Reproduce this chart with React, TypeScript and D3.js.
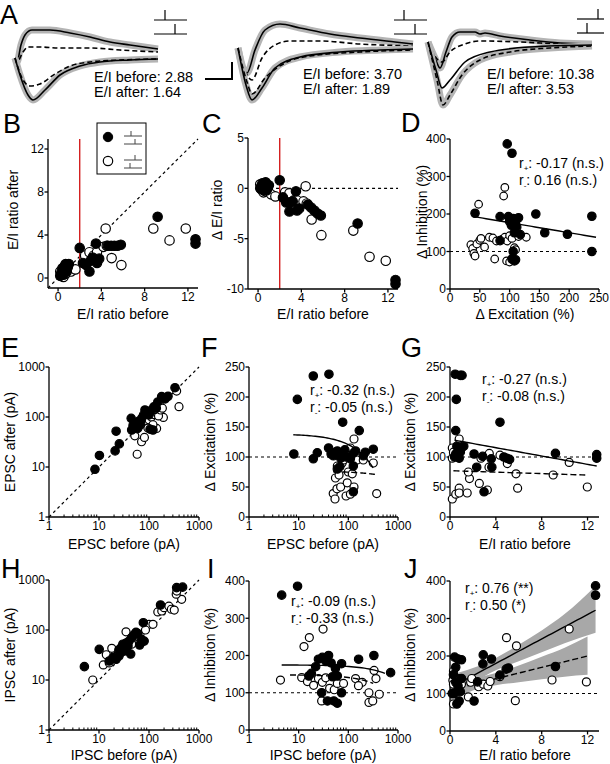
import React from "react";
import * as d3 from "d3";

const FONT = "'Liberation Sans', Arial, Helvetica, sans-serif";

// ---------- Panel A: example traces (time ms, current a.u., outward positive) ----------
const a1UpSolidT = [0, 2, 6, 10, 17, 35, 55, 75, 95, 115, 143];
const a1UpSolidV = [1, -3, 14, 24, 29, 29, 26, 22, 17, 14, 10];
const a1UpDashT = [0, 2, 8, 13, 25, 45, 75, 105, 143];
const a1UpDashV = [1, -3, 7, 12, 12, 11, 11, 9, 7];
const a1LoSolidT = [0, 5, 13, 18, 30, 45, 65, 85, 115, 143];
const a1LoSolidV = [1, -16, -36, -41, -31, -16, -7, -3, -1, 0];
const a1LoDashT = [0, 7, 15, 25, 40, 55, 75, 105, 143];
const a1LoDashV = [1, -19, -27, -25, -15, -7, -3, -1, 0];

const a2UpSolidT = [0, 5, 9, 17, 27, 42, 62, 92, 122, 157, 175];
const a2UpSolidV = [0, -20, -25, -2, 18, 24, 20, 14, 10, 6, 4];
const a2UpDashT = [0, 9, 14, 24, 37, 52, 82, 122, 175];
const a2UpDashV = [0, -27, -32, -10, 3, 7, 7, 4, 2];
const a2LoSolidT = [0, 8, 14, 24, 37, 62, 102, 142, 175];
const a2LoSolidV = [0, -37, -52, -40, -20, -9, -4, -2, -1];
const a2LoDashT = [0, 9, 14, 27, 47, 72, 122, 175];
const a2LoDashV = [0, -34, -46, -30, -15, -8, -4, -2];

const a3UpSolidT = [0, 7, 12, 18, 24, 32, 47, 52, 57, 72, 102, 132, 164];
const a3UpSolidV = [2, -14, -24, -8, 7, 12, 12, 10, 11, 8, 4, 1, 0];
const a3UpDashT = [0, 10, 14, 22, 37, 52, 92, 132, 164];
const a3UpDashV = [2, -16, -18, -8, 0, 3, 2, 0, -1];
const a3LoSolidT = [0, 8, 14, 22, 37, 62, 102, 164];
const a3LoSolidV = [2, -26, -44, -36, -18, -8, -3, -1];
const a3LoDashT = [0, 9, 15, 22, 34, 52, 82, 122, 164];
const a3LoDashV = [2, -36, -61, -51, -31, -16, -8, -4, -2];

const eiLabels = [
  ["E/I before: 2.88", "E/I after: 1.64"],
  ["E/I before: 3.70", "E/I after: 1.89"],
  ["E/I before: 10.38", "E/I after: 3.53"],
];

// ---------- Panel B (and C derived): E/I ratio before / after ----------
const bFilled: [number, number][] = [
  [0.2, 0.2], [0.3, 0.5], [0.4, 0.9], [0.5, 0.3], [0.6, 1.1], [0.7, 1.3], [0.8, 0.6], [0.9, 1.0],
  [1.0, 1.3], [0.5, 0.7], [2.0, 2.8], [2.3, 1.4], [2.6, 1.2], [2.9, 0.6], [3.0, 1.6], [3.2, 1.9],
  [3.5, 3.2], [3.6, 1.4], [3.8, 1.8], [4.6, 3.0], [4.9, 3.0], [5.2, 3.0], [5.5, 3.0], [5.8, 3.1],
  [9.2, 5.7], [12.7, 3.6], [12.7, 3.2],
];
const bOpen: [number, number][] = [
  [0.3, 0.2], [0.4, 0.5], [0.5, 0.1], [0.7, 0.4], [0.9, 0.7], [1.2, 0.6], [1.6, 0.8], [2.5, 2.1],
  [2.9, 2.4], [3.3, 2.1], [3.6, 2.4], [4.2, 2.9], [4.4, 4.6], [4.5, 3.0], [4.95, 1.85], [5.85, 1.2],
  [8.8, 4.6], [10.3, 3.5], [11.8, 4.6], [0.2, 0.6],
];

// ---------- Panel D: ΔExcitation vs ΔInhibition ----------
const dFilled: [number, number][] = [
  [96, 387], [104, 362], [42, 202], [84, 193], [98, 193], [100, 180], [103, 170], [106, 188],
  [110, 175], [112, 165], [115, 190], [108, 150], [118, 145], [144, 200], [159, 150], [197, 146],
  [238, 194], [238, 100], [84, 129], [106, 100], [104, 80], [108, 75], [110, 78],
];
const dOpen: [number, number][] = [
  [92, 271], [90, 248], [48, 226], [35, 118], [38, 108], [40, 95], [42, 88], [45, 120], [50, 130],
  [52, 135], [58, 112], [66, 138], [72, 136], [78, 128], [75, 80], [88, 133], [92, 138], [96, 128],
  [100, 142], [104, 135], [108, 110], [110, 105], [115, 140], [128, 138], [95, 75], [100, 72],
];
const dFitFilled: [number, number][] = [[40, 193], [245, 138]];

// ---------- Panel E: EPSC before / after ----------
const eFilled: [number, number][] = [
  [8.3, 9], [10.2, 17], [21, 21], [22, 52], [25.5, 29], [44, 94], [83, 138], [179, 256], [331, 385],
  [45, 55], [48, 68], [52, 62], [56, 75], [62, 82], [68, 72], [72, 95], [78, 110], [90, 118],
  [100, 110], [110, 135], [125, 160], [140, 150], [150, 200], [210, 230], [240, 260], [105, 57],
  [120, 55], [60, 60],
];
const eOpen: [number, number][] = [
  [58, 18], [398, 161], [194, 98], [71, 32], [81, 39], [52, 42], [142, 59], [357, 330], [58, 58],
  [68, 70], [80, 82], [92, 95], [100, 88], [112, 100], [125, 112], [138, 128], [155, 105], [170, 138],
  [160, 180], [185, 150], [120, 70], [95, 60], [130, 140],
];

// ---------- Panel F: EPSC before vs ΔExcitation ----------
const fFilled: [number, number][] = [
  [9.4, 196], [19.7, 235], [40.7, 238], [77, 158], [166, 144], [8, 105], [19.7, 97], [23.7, 107],
  [40, 115], [45, 105], [50, 102], [55, 108], [60, 110], [70, 98], [75, 104], [85, 112], [95, 100],
  [110, 97], [125, 106], [140, 110], [200, 102], [220, 108], [318, 113], [67.6, 84], [126, 85],
  [126, 42], [60, 80],
];
const fOpen: [number, number][] = [
  [130, 130], [49.6, 39], [53.9, 30], [59, 47], [70, 50], [90, 35], [95, 57], [110, 38], [130, 50],
  [372, 39], [318, 90], [55, 65], [65, 70], [75, 90], [80, 95], [100, 75], [120, 72], [150, 95],
  [110, 115], [60, 85], [200, 95], [85, 100],
];
const fFitFilled: [number, number][] = [[7.8, 137], [316, 82]];
const fFitOpen: [number, number][] = [[49.7, 75.5], [343, 71]];

// ---------- Panel G: E/I before vs ΔExcitation ----------
const gFilled: [number, number][] = [
  [0.45, 238], [0.9, 236], [1.05, 236], [0.55, 196], [0.5, 144], [4.36, 158], [0.4, 100], [0.5, 105],
  [0.7, 110], [0.8, 98], [1.0, 115], [1.2, 118], [0.6, 118], [2.1, 105], [2.33, 83], [2.85, 101],
  [2.97, 42], [3.6, 97], [3.65, 83], [4.7, 100], [4.95, 98], [5.2, 96], [9.2, 106], [12.8, 104],
  [12.8, 98], [0.9, 108],
];
const gOpen: [number, number][] = [
  [0.8, 130], [0.2, 115], [0.2, 98], [0.8, 48], [0.2, 30], [0.5, 38], [0.8, 40], [1.5, 40], [1.7, 64],
  [1.6, 75], [2.56, 56], [3.26, 45], [2.7, 98], [3.43, 106], [3.4, 83], [4.36, 103], [5.0, 89],
  [5.76, 72], [5.9, 48], [9.0, 70], [10.4, 91], [11.98, 50], [0.3, 108],
];
const gFitFilled: [number, number][] = [[0.4, 128], [12.8, 85]];
const gFitOpen: [number, number][] = [[0.3, 77], [11.8, 70]];

// ---------- Panel H: IPSC before / after ----------
const hFilled: [number, number][] = [
  [5.1, 18.5], [10.1, 41], [357, 704], [470, 720], [170, 316], [77, 140], [43, 33], [16, 24], [19, 28],
  [22, 26], [25, 40], [28, 45], [30, 52], [32, 38], [35, 55], [40, 60], [45, 70], [50, 80], [55, 90],
  [60, 85], [65, 50], [70, 65], [80, 60], [25, 30], [38, 48],
];
const hOpen: [number, number][] = [
  [7.5, 10], [12.2, 20], [18, 43], [34.7, 92], [100, 130], [150, 230], [180, 240], [200, 280],
  [250, 300], [280, 260], [320, 250], [450, 410], [350, 520], [360, 600], [65, 55], [75, 60], [14, 32],
  [16, 22], [22, 30], [28, 36], [45, 52], [85, 100], [55, 75], [120, 130], [30, 45],
];

// ---------- Panel I: IPSC before vs ΔInhibition ----------
const iFilled: [number, number][] = [
  [4.55, 362], [9.5, 386], [18, 152], [22, 170], [25, 190], [30, 195], [35, 185], [40, 200], [45, 180],
  [55, 165], [60, 145], [73, 178], [48, 143], [161, 190], [327, 200], [710, 154], [29, 100], [38, 78],
  [51, 78], [60, 72], [73, 100], [16, 145],
];
const iOpen: [number, number][] = [
  [12.8, 224], [16.4, 248], [31, 271], [4.3, 134], [11.5, 141], [15, 130], [20, 120], [25, 138],
  [30, 128], [29, 78], [42, 112], [52, 108], [60, 125], [80, 125], [140, 138], [190, 128], [260, 100],
  [260, 74], [310, 78], [330, 160], [360, 138], [420, 96], [160, 119], [35, 140],
];
const iFitFilled: [number, number][] = [[4.55, 174.5], [545, 152]];
const iFitOpen: [number, number][] = [[6.7, 147.7], [317, 125]];

// ---------- Panel J: E/I before vs ΔInhibition ----------
const jFilled: [number, number][] = [
  [12.7, 387], [12.7, 362], [0.4, 197], [0.7, 192], [1.0, 190], [0.5, 170], [2.9, 203], [2.87, 179],
  [3.62, 192], [0.35, 100], [0.6, 72], [0.8, 80], [2.1, 80], [2.4, 131], [4.35, 149], [4.9, 165],
  [5.1, 168], [9.2, 172], [0.3, 150], [0.5, 130], [0.7, 120], [1.0, 140], [0.9, 105], [0.2, 100],
];
const jOpen: [number, number][] = [
  [4.93, 249], [5.8, 227], [10.4, 272], [8.9, 136], [11.9, 131], [5.7, 81], [0.3, 160], [0.25, 135],
  [0.3, 125], [0.3, 100], [0.3, 72], [1.6, 91], [1.8, 130], [1.9, 140], [2.5, 118], [2.9, 125],
  [3.3, 120], [3.5, 132], [4.35, 145], [0.7, 140], [1.0, 125],
];
const jFitFilled: [number, number][] = [[0, 115], [12.7, 322]];
const jFitOpen: [number, number][] = [[0, 109], [12, 200]];
const jBandFX = [0, 2, 4, 6, 8, 10, 12.7];
const jBandFHi = [150, 168, 195, 230, 268, 312, 387];
const jBandFLo = [85, 128, 162, 186, 210, 234, 262];
const jBandOX = [0, 2, 4, 6, 8, 10, 12];
const jBandOHi = [140, 142, 155, 175, 198, 222, 252];
const jBandOLo = [78, 108, 122, 130, 138, 145, 150];

// ---------- stats text ----------
const statsD = [["+", ": -0.17 (n.s.)"], ["-", ": 0.16 (n.s.)"]];
const statsF = [["+", ": -0.32 (n.s.)"], ["-", ": -0.05 (n.s.)"]];
const statsG = [["+", ": -0.27 (n.s.)"], ["-", ": -0.08 (n.s.)"]];
const statsI = [["+", ": -0.09 (n.s.)"], ["-", ": -0.33 (n.s.)"]];
const statsJ = [["+", ": 0.76 (**)"], ["-", ": 0.50 (*)"]];

type Sc = (v: number) => number;

const SW = 1.3;

function LeftAxis({ y, ticks, x0, top, bottom, fmt }: { y: Sc; ticks: number[]; x0: number; top: number; bottom: number; fmt?: (v: number) => string }) {
  return (
    <g>
      <line x1={x0} x2={x0} y1={top} y2={bottom} stroke="black" strokeWidth={SW} />
      {ticks.map((t) => (
        <g key={t}>
          <line x1={x0 - 3.5} x2={x0} y1={y(t)} y2={y(t)} stroke="black" strokeWidth={SW} />
          <text x={x0 - 4} y={y(t)} dy="0.36em" textAnchor="end" fontSize={12}>
            {fmt ? fmt(t) : String(t)}
          </text>
        </g>
      ))}
    </g>
  );
}

function BottomAxis({ x, ticks, y0, left, right, minor }: { x: Sc; ticks: number[]; y0: number; left: number; right: number; minor?: number[] }) {
  return (
    <g>
      <line x1={left} x2={right} y1={y0} y2={y0} stroke="black" strokeWidth={SW} />
      {(minor || []).map((t, i) => (
        <line key={"m" + i} x1={x(t)} x2={x(t)} y1={y0} y2={y0 - 2.5} stroke="black" strokeWidth={1} />
      ))}
      {ticks.map((t) => (
        <g key={t}>
          <line x1={x(t)} x2={x(t)} y1={y0} y2={y0 + 3.5} stroke="black" strokeWidth={SW} />
          <text x={x(t)} y={y0 + 12.5} textAnchor="middle" fontSize={12}>
            {String(t)}
          </text>
        </g>
      ))}
    </g>
  );
}

function Dots({ data, x, y, r, filled }: { data: [number, number][]; x: Sc; y: Sc; r: number; filled: boolean }) {
  return (
    <g>
      {data.map((d, i) => (
        <circle key={i} cx={x(d[0])} cy={y(d[1])} r={r} fill={filled ? "black" : "white"} stroke="black" strokeWidth={1.2} />
      ))}
    </g>
  );
}

function Stats({ x, y, rows }: { x: number; y: number; rows: string[][] }) {
  return (
    <g>
      {rows.map((r, i) => (
        <text key={i} x={x} y={y + i * 17} fontSize={14}>
          r<tspan fontSize={8} dy={3}>{r[0]}</tspan>
          <tspan dy={-3}>{r[1]}</tspan>
        </text>
      ))}
    </g>
  );
}

function YLabel({ x, y, text }: { x: number; y: number; text: string }) {
  return (
    <text transform={`translate(${x},${y}) rotate(-90)`} textAnchor="middle" fontSize={14}>
      {text}
    </text>
  );
}

function XLabel({ x, y, text }: { x: number; y: number; text: string }) {
  return (
    <text x={x} y={y} textAnchor="middle" fontSize={14}>
      {text}
    </text>
  );
}

function Letter({ x, y, t }: { x: number; y: number; t: string }) {
  return (
    <text x={x} y={y} fontSize={27}>
      {t}
    </text>
  );
}

function Protocol({ x, y, w, t1, t2 }: { x: number; y: number; w: number; t1: number; t2: number }) {
  return (
    <g stroke="black" strokeWidth={1.2} fill="none">
      <line x1={x} x2={x + w} y1={y} y2={y} />
      <line x1={x + t1} x2={x + t1} y1={y} y2={y - 10} />
      <line x1={x} x2={x + w} y1={y + 14} y2={y + 14} />
      <line x1={x + t2} x2={x + t2} y1={y + 14} y2={y + 4} />
    </g>
  );
}

function minorLog(): number[] {
  const out: number[] = [];
  [1, 10, 100].forEach((d) => {
    for (let k = 2; k <= 9; k++) out.push(d * k);
  });
  return out;
}

const logFmt = (v: number) => String(v);

function fitPath(pts: [number, number][], x: Sc, y: Sc, log: boolean) {
  const [p0, p1] = pts;
  const n = 40;
  const arr: [number, number][] = d3.range(n + 1).map((i) => {
    const xv = log ? Math.exp(Math.log(p0[0]) + (i / n) * (Math.log(p1[0]) - Math.log(p0[0]))) : p0[0] + (i / n) * (p1[0] - p0[0]);
    const yv = p0[1] + ((xv - p0[0]) / (p1[0] - p0[0])) * (p1[1] - p0[1]);
    return [x(xv), y(yv)];
  });
  return d3.line()(arr) || "";
}

function Trace({ t, v, x0, base, dashed, band }: { t: number[]; v: number[]; x0: number; base: number; dashed?: boolean; band?: boolean }) {
  const xs = d3.scaleLinear().domain([0, 1]).range([x0, x0 + 1]);
  const ys = d3.scaleLinear().domain([0, 1]).range([base, base - 1]);
  const pts: [number, number][] = t.map((tt, i) => [xs(tt), ys(v[i])]);
  const p = d3.line().curve(d3.curveMonotoneX)(pts) || "";
  return (
    <g fill="none">
      {band && <path d={p} stroke="#b4b4b4" strokeWidth={7} strokeLinejoin="round" />}
      <path d={p} stroke="black" strokeWidth={1.6} strokeDasharray={dashed ? "5,3" : undefined} />
    </g>
  );
}

export default function App() {
  // scales
  const bx = d3.scaleLinear().domain([-0.93, 12.93]).range([48, 198]);
  const by = d3.scaleLinear().domain([-0.93, 12.93]).range([288, 139]);
  const cx = d3.scaleLinear().domain([-0.93, 12.93]).range([248, 398]);
  const cy = d3.scaleLinear().domain([-10, 5]).range([289, 138]);
  const dx = d3.scaleLinear().domain([0, 250]).range([450, 599]);
  const dy = d3.scaleLinear().domain([0, 400]).range([289, 139]);
  const ex = d3.scaleLog().domain([1, 1000]).range([49, 199]);
  const ey = d3.scaleLog().domain([1, 1000]).range([517, 367]);
  const fx = d3.scaleLog().domain([1, 1000]).range([249, 398]);
  const fy = d3.scaleLinear().domain([0, 250]).range([517, 367]);
  const gx = d3.scaleLinear().domain([0, 13]).range([450, 599]);
  const gy = d3.scaleLinear().domain([0, 250]).range([517, 367]);
  const hx = d3.scaleLog().domain([1, 1000]).range([49, 199]);
  const hy = d3.scaleLog().domain([1, 1000]).range([730, 580]);
  const ix = d3.scaleLog().domain([1, 1000]).range([249, 398]);
  const iy = d3.scaleLinear().domain([0, 400]).range([730, 581]);
  const jx = d3.scaleLinear().domain([0, 13]).range([450, 599]);
  const jy = d3.scaleLinear().domain([0, 400]).range([731, 581]);

  const cFilled: [number, number][] = bFilled.map((d) => [d[0], d[1] - d[0]]);
  const cOpen: [number, number][] = bOpen.map((d) => [d[0], d[1] - d[0]]);

  const dotted = { stroke: "black", strokeWidth: 1.2, strokeDasharray: "3,3", fill: "none" } as const;
  const minor = minorLog();

  const bandF = d3
    .area<number>()
    .x((_, i) => jx(jBandFX[i]))
    .y0((_, i) => jy(jBandFLo[i]))
    .y1((_, i) => jy(jBandFHi[i]))
    .curve(d3.curveMonotoneX)(jBandFX) || "";
  const bandO = d3
    .area<number>()
    .x((_, i) => jx(jBandOX[i]))
    .y0((_, i) => jy(jBandOLo[i]))
    .y1((_, i) => jy(jBandOHi[i]))
    .curve(d3.curveMonotoneX)(jBandOX) || "";

  return (
    <svg width={610} height={764} style={{ position: "absolute", left: 0, top: 0, background: "white" }} fontFamily={FONT}>
      <rect width={610} height={764} fill="white" />

      {/* ---------- A ---------- */}
      <Letter x={0} y={24} t="A" />
      <Trace t={a1UpSolidT} v={a1UpSolidV} x0={15} base={59} band />
      <Trace t={a1UpDashT} v={a1UpDashV} x0={15} base={59} dashed />
      <Trace t={a1LoSolidT} v={a1LoSolidV} x0={15} base={59} band />
      <Trace t={a1LoDashT} v={a1LoDashV} x0={15} base={59} dashed />
      <Protocol x={154} y={20} w={33} t1={11} t2={21} />
      <text x={94} y={82} fontSize={14.5}>{eiLabels[0][0]}</text>
      <text x={94} y={97} fontSize={14.5}>{eiLabels[0][1]}</text>

      <g stroke="black" strokeWidth={2} fill="none">
        <polyline points="205,79 232,79 232,62" />
      </g>
      <Trace t={a2UpSolidT} v={a2UpSolidV} x0={238} base={48} band />
      <Trace t={a2UpDashT} v={a2UpDashV} x0={238} base={48} dashed />
      <Trace t={a2LoSolidT} v={a2LoSolidV} x0={238} base={48} band />
      <Trace t={a2LoDashT} v={a2LoDashV} x0={238} base={48} dashed />
      <Protocol x={394} y={20} w={33} t1={10} t2={21} />
      <text x={303} y={79} fontSize={14.5}>{eiLabels[1][0]}</text>
      <text x={303} y={94} fontSize={14.5}>{eiLabels[1][1]}</text>

      <Trace t={a3UpSolidT} v={a3UpSolidV} x0={428} base={44} band />
      <Trace t={a3UpDashT} v={a3UpDashV} x0={428} base={44} dashed />
      <Trace t={a3LoDashT} v={a3LoDashV} x0={428} base={44} dashed band />
      <Trace t={a3LoSolidT} v={a3LoSolidV} x0={428} base={44} />
      <Protocol x={577} y={19} w={27} t1={21} t2={10} />
      <text x={487} y={79} fontSize={14.5}>{eiLabels[2][0]}</text>
      <text x={487} y={94} fontSize={14.5}>{eiLabels[2][1]}</text>

      {/* ---------- B ---------- */}
      <Letter x={3} y={133} t="B" />
      <line x1={bx(-0.93)} y1={by(-0.93)} x2={bx(12.93)} y2={by(12.93)} {...dotted} />
      <line x1={bx(2)} x2={bx(2)} y1={139} y2={288} stroke="#d42020" strokeWidth={1.4} />
      <LeftAxis y={by} ticks={[0, 4, 8, 12]} x0={48} top={139} bottom={288} />
      <BottomAxis x={bx} ticks={[0, 4, 8, 12]} y0={288} left={48} right={198} />
      <Dots data={bOpen} x={bx} y={by} r={4.7} filled={false} />
      <Dots data={bFilled} x={bx} y={by} r={4.7} filled />
      <YLabel x={18} y={210} text="E/I ratio after" />
      <XLabel x={123} y={319} text="E/I ratio before" />
      <rect x={97} y={123} width={49} height={51} fill="white" stroke="black" strokeWidth={1} />
      <circle cx={108} cy={137} r={4.7} fill="black" stroke="black" />
      <circle cx={108} cy={161} r={4.7} fill="white" stroke="black" strokeWidth={1.2} />
      <g stroke="#444" strokeWidth={1}>
        <line x1={124} x2={142} y1={136} y2={136} />
        <line x1={131} x2={131} y1={136} y2={131} />
        <line x1={124} x2={142} y1={144} y2={144} />
        <line x1={135} x2={135} y1={144} y2={139} />
        <line x1={124} x2={142} y1={160} y2={160} />
        <line x1={135} x2={135} y1={160} y2={155} />
        <line x1={124} x2={142} y1={168} y2={168} />
        <line x1={130} x2={130} y1={168} y2={163} />
      </g>

      {/* ---------- C ---------- */}
      <Letter x={202} y={133} t="C" />
      <line x1={cx(0)} x2={398} y1={cy(0)} y2={cy(0)} {...dotted} />
      <line x1={cx(2)} x2={cx(2)} y1={138} y2={289} stroke="#d42020" strokeWidth={1.4} />
      <LeftAxis y={cy} ticks={[5, 0, -5, -10]} x0={248} top={138} bottom={289} />
      <BottomAxis x={cx} ticks={[0, 4, 8, 12]} y0={289} left={248} right={398} />
      <Dots data={cOpen} x={cx} y={cy} r={4.7} filled={false} />
      <Dots data={cFilled} x={cx} y={cy} r={4.7} filled />
      <YLabel x={222} y={210} text="Δ E/I ratio" />
      <XLabel x={323} y={319} text="E/I ratio before" />

      {/* ---------- D ---------- */}
      <Letter x={401} y={132} t="D" />
      <line x1={450} x2={597} y1={dy(100)} y2={dy(100)} {...dotted} />
      <LeftAxis y={dy} ticks={[0, 100, 200, 300, 400]} x0={450} top={139} bottom={289} />
      <BottomAxis x={dx} ticks={[0, 50, 100, 150, 200, 250]} y0={289} left={450} right={599} />
      <Dots data={dOpen} x={dx} y={dy} r={3.8} filled={false} />
      <Dots data={dFilled} x={dx} y={dy} r={4.2} filled />
      <path d={fitPath(dFitFilled, dx, dy, false)} stroke="black" strokeWidth={1.4} fill="none" />
      <Stats x={519} y={168} rows={statsD} />
      <YLabel x={427} y={212} text="Δ Inhibition (%)" />
      <XLabel x={525} y={319} text="Δ Excitation (%)" />

      {/* ---------- E ---------- */}
      <Letter x={1} y={357} t="E" />
      <line x1={ex(1)} y1={ey(1)} x2={ex(1000)} y2={ey(1000)} {...dotted} />
      <LeftAxis y={ey} ticks={[1, 10, 100, 1000]} x0={49} top={367} bottom={517} fmt={logFmt} />
      <BottomAxis x={ex} ticks={[1, 10, 100, 1000]} y0={517} left={49} right={199} minor={minor} />
      <Dots data={eOpen} x={ex} y={ey} r={4} filled={false} />
      <Dots data={eFilled} x={ex} y={ey} r={4.2} filled />
      <YLabel x={15} y={442} text="EPSC after (pA)" />
      <XLabel x={124} y={549} text="EPSC before (pA)" />

      {/* ---------- F ---------- */}
      <Letter x={201} y={357} t="F" />
      <line x1={249} x2={398} y1={fy(100)} y2={fy(100)} {...dotted} />
      <LeftAxis y={fy} ticks={[0, 50, 100, 150, 200, 250]} x0={249} top={367} bottom={517} />
      <BottomAxis x={fx} ticks={[1, 10, 100, 1000]} y0={517} left={249} right={398} minor={minor} />
      <Dots data={fOpen} x={fx} y={fy} r={4} filled={false} />
      <Dots data={fFilled} x={fx} y={fy} r={4.2} filled />
      <path d={fitPath(fFitFilled, fx, fy, true)} stroke="black" strokeWidth={1.4} fill="none" />
      <path d={fitPath(fFitOpen, fx, fy, true)} stroke="black" strokeWidth={1.4} strokeDasharray="6,3" fill="none" />
      <Stats x={310} y={395} rows={statsF} />
      <YLabel x={215} y={442} text="Δ Excitation (%)" />
      <XLabel x={323} y={549} text="EPSC before (pA)" />

      {/* ---------- G ---------- */}
      <Letter x={401} y={357} t="G" />
      <line x1={450} x2={598} y1={gy(100)} y2={gy(100)} {...dotted} />
      <LeftAxis y={gy} ticks={[0, 50, 100, 150, 200, 250]} x0={450} top={367} bottom={517} />
      <BottomAxis x={gx} ticks={[0, 4, 8, 12]} y0={517} left={450} right={599} />
      <Dots data={gOpen} x={gx} y={gy} r={4} filled={false} />
      <Dots data={gFilled} x={gx} y={gy} r={4.2} filled />
      <path d={fitPath(gFitFilled, gx, gy, false)} stroke="black" strokeWidth={1.4} fill="none" />
      <path d={fitPath(gFitOpen, gx, gy, false)} stroke="black" strokeWidth={1.4} strokeDasharray="6,3" fill="none" />
      <Stats x={482} y={384} rows={statsG} />
      <YLabel x={415} y={442} text="Δ Excitation (%)" />
      <XLabel x={525} y={549} text="E/I ratio before" />

      {/* ---------- H ---------- */}
      <Letter x={1} y={578} t="H" />
      <line x1={hx(1)} y1={hy(1)} x2={hx(1000)} y2={hy(1000)} {...dotted} />
      <LeftAxis y={hy} ticks={[1, 10, 100, 1000]} x0={49} top={580} bottom={730} fmt={logFmt} />
      <BottomAxis x={hx} ticks={[1, 10, 100, 1000]} y0={730} left={49} right={199} minor={minor} />
      <Dots data={hOpen} x={hx} y={hy} r={4} filled={false} />
      <Dots data={hFilled} x={hx} y={hy} r={4.2} filled />
      <YLabel x={15} y={655} text="IPSC after (pA)" />
      <XLabel x={124} y={760} text="IPSC before (pA)" />

      {/* ---------- I ---------- */}
      <Letter x={207} y={578} t="I" />
      <line x1={249} x2={398} y1={iy(100)} y2={iy(100)} {...dotted} />
      <LeftAxis y={iy} ticks={[0, 100, 200, 300, 400]} x0={249} top={581} bottom={730} />
      <BottomAxis x={ix} ticks={[1, 10, 100, 1000]} y0={730} left={249} right={398} minor={minor} />
      <Dots data={iOpen} x={ix} y={iy} r={4} filled={false} />
      <Dots data={iFilled} x={ix} y={iy} r={4.2} filled />
      <path d={fitPath(iFitFilled, ix, iy, true)} stroke="black" strokeWidth={1.4} fill="none" />
      <path d={fitPath(iFitOpen, ix, iy, true)} stroke="black" strokeWidth={1.4} strokeDasharray="6,3" fill="none" />
      <Stats x={291} y={606} rows={statsI} />
      <YLabel x={215} y={655} text="Δ Inhibition (%)" />
      <XLabel x={323} y={760} text="IPSC before (pA)" />

      {/* ---------- J ---------- */}
      <Letter x={404} y={578} t="J" />
      <path d={bandF} fill="#a8a8a8" />
      <path d={bandO} fill="#a8a8a8" />
      <line x1={450} x2={598} y1={jy(100)} y2={jy(100)} {...dotted} />
      <LeftAxis y={jy} ticks={[0, 100, 200, 300, 400]} x0={450} top={581} bottom={731} />
      <BottomAxis x={jx} ticks={[0, 4, 8, 12]} y0={731} left={450} right={599} />
      <path d={fitPath(jFitFilled, jx, jy, false)} stroke="black" strokeWidth={1.4} fill="none" />
      <path d={fitPath(jFitOpen, jx, jy, false)} stroke="black" strokeWidth={1.4} strokeDasharray="6,3" fill="none" />
      <Dots data={jOpen} x={jx} y={jy} r={4} filled={false} />
      <Dots data={jFilled} x={jx} y={jy} r={4.2} filled />
      <Stats x={465} y={593} rows={statsJ} />
      <YLabel x={415} y={655} text="Δ Inhibition (%)" />
      <XLabel x={525} y={760} text="E/I ratio before" />
    </svg>
  );
}
